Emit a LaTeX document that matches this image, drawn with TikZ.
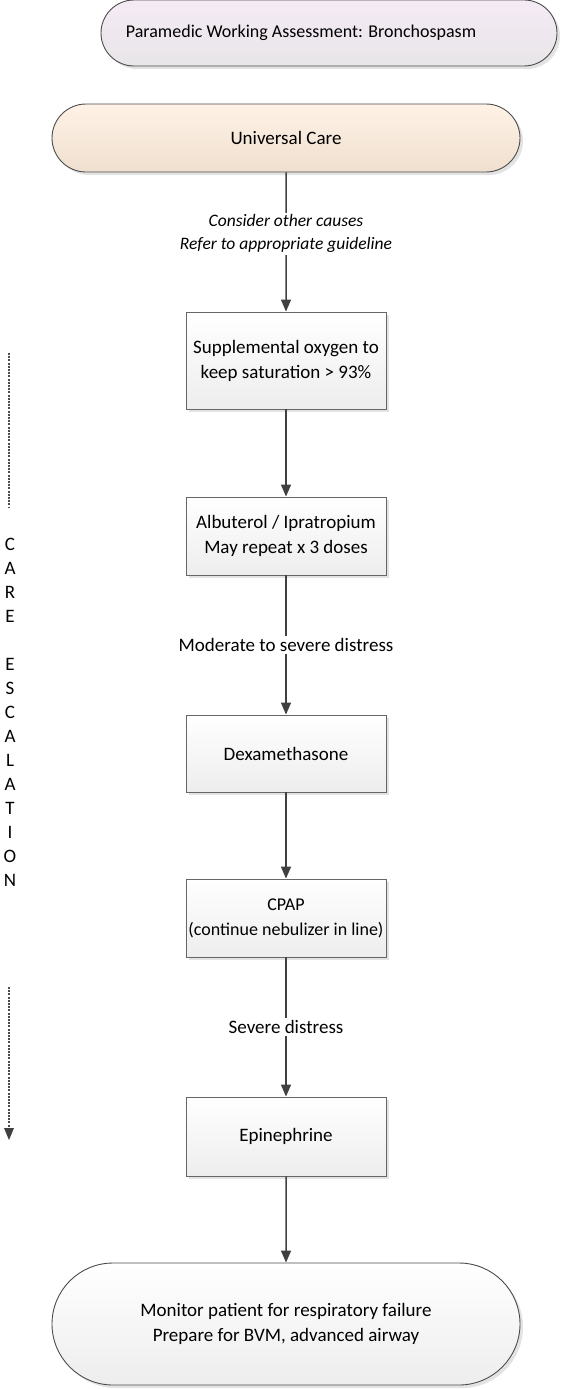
\documentclass[tikz,border=0pt]{standalone}
\usepackage{fontspec}
\setmainfont{Carlito}
\usetikzlibrary{arrows.meta,
                shapes.misc,
                shadows}

\begin{document}
\begin{tikzpicture}[x=1pt, y=-1pt,
    every node/.style={font=\fontsize{19}{25}\selectfont, align=center, inner sep=0pt},
    shade/.style={drop shadow={opacity=0.22, shadow xshift=3pt, shadow yshift=-3pt}},
    pill/.style={rounded rectangle, draw=black!70, line width=0.9pt, shade},
    stepbox/.style={rectangle, draw=black!60, line width=0.9pt, shade,
                    top color=white, bottom color=black!7,
                    minimum width=200pt},
    flow/.style={draw=black!75, line width=1.5pt, -{Triangle[length=12pt, width=10pt]}},
    lbl/.style={fill=white, inner sep=2pt}]
    \useasboundingbox (0, 0) rectangle (561, 1389);

    % header and start
    \node[pill, top color=violet!8, bottom color=violet!16!black!10,
          minimum width=456pt, minimum height=66pt] (title) at (329, 33) {};
    \node[font=\fontsize{18}{24}\selectfont] (titletext) at (301, 33)
      {Paramedic Working Assessment: Bronchospasm};
    \node[pill, top color=orange!10, bottom color=brown!25!white,
          minimum width=468pt, minimum height=68pt] (univ) at (286, 138) {Universal Care};

    % treatment steps
    \node[stepbox, minimum height=97pt] (oxy) at (286, 360.5)
      {Supplemental oxygen to\\keep saturation > 93\%};
    \node[stepbox, minimum height=78pt] (albu) at (286, 536)
      {Albuterol / Ipratropium\\May repeat x 3 doses};
    \node[stepbox, minimum height=77pt] (dexa) at (286, 753.5) {Dexamethasone};
    \node[stepbox, minimum height=78pt, font=\fontsize{18}{25}\selectfont] (cpap) at (286, 918)
      {CPAP\\(continue nebulizer in line)};
    \node[stepbox, minimum height=79pt] (epi) at (286, 1136.5) {Epinephrine};
    \node[pill, top color=white, bottom color=black!7,
          minimum width=468pt, minimum height=122pt] (monitor) at (286, 1324)
      {Monitor patient for respiratory failure\\Prepare for BVM, advanced airway};

    \draw[flow] (univ) -- (oxy)
      node[lbl, pos=0.44, font=\fontsize{17.5}{23}\selectfont\itshape]
      {Consider other causes\\Refer to appropriate guideline};
    \draw[flow] (oxy) -- (albu);
    \draw[flow] (albu) -- (dexa) node[lbl, midway] {Moderate to severe distress};
    \draw[flow] (dexa) -- (cpap);
    \draw[flow] (cpap) -- (epi) node[lbl, midway] {Severe distress};
    \draw[flow] (epi) -- (monitor);

    % escalation marker
    \node[font=\fontsize{19}{24}\selectfont] (esc) at (10, 712.5)
      {C\\A\\R\\E\\\mbox{}\\E\\S\\C\\A\\L\\A\\T\\I\\O\\N};
    \coordinate (escA) at (9, 353);
    \coordinate (escB) at (9, 507);
    \coordinate (escC) at (9, 987);
    \coordinate (escD) at (9, 1140);
    \draw[black!70, line width=1.6pt, dash pattern=on 2pt off 1.2pt] (escA) -- (escB);
    \draw[black!70, line width=1.6pt, dash pattern=on 2pt off 1.2pt] (escC) -- ([yshift=10pt]escD);
    \fill[black!75] (escD) -- ++(-5, -12) -- ++(10, 0) -- cycle;
  \end{tikzpicture}
\end{document}
